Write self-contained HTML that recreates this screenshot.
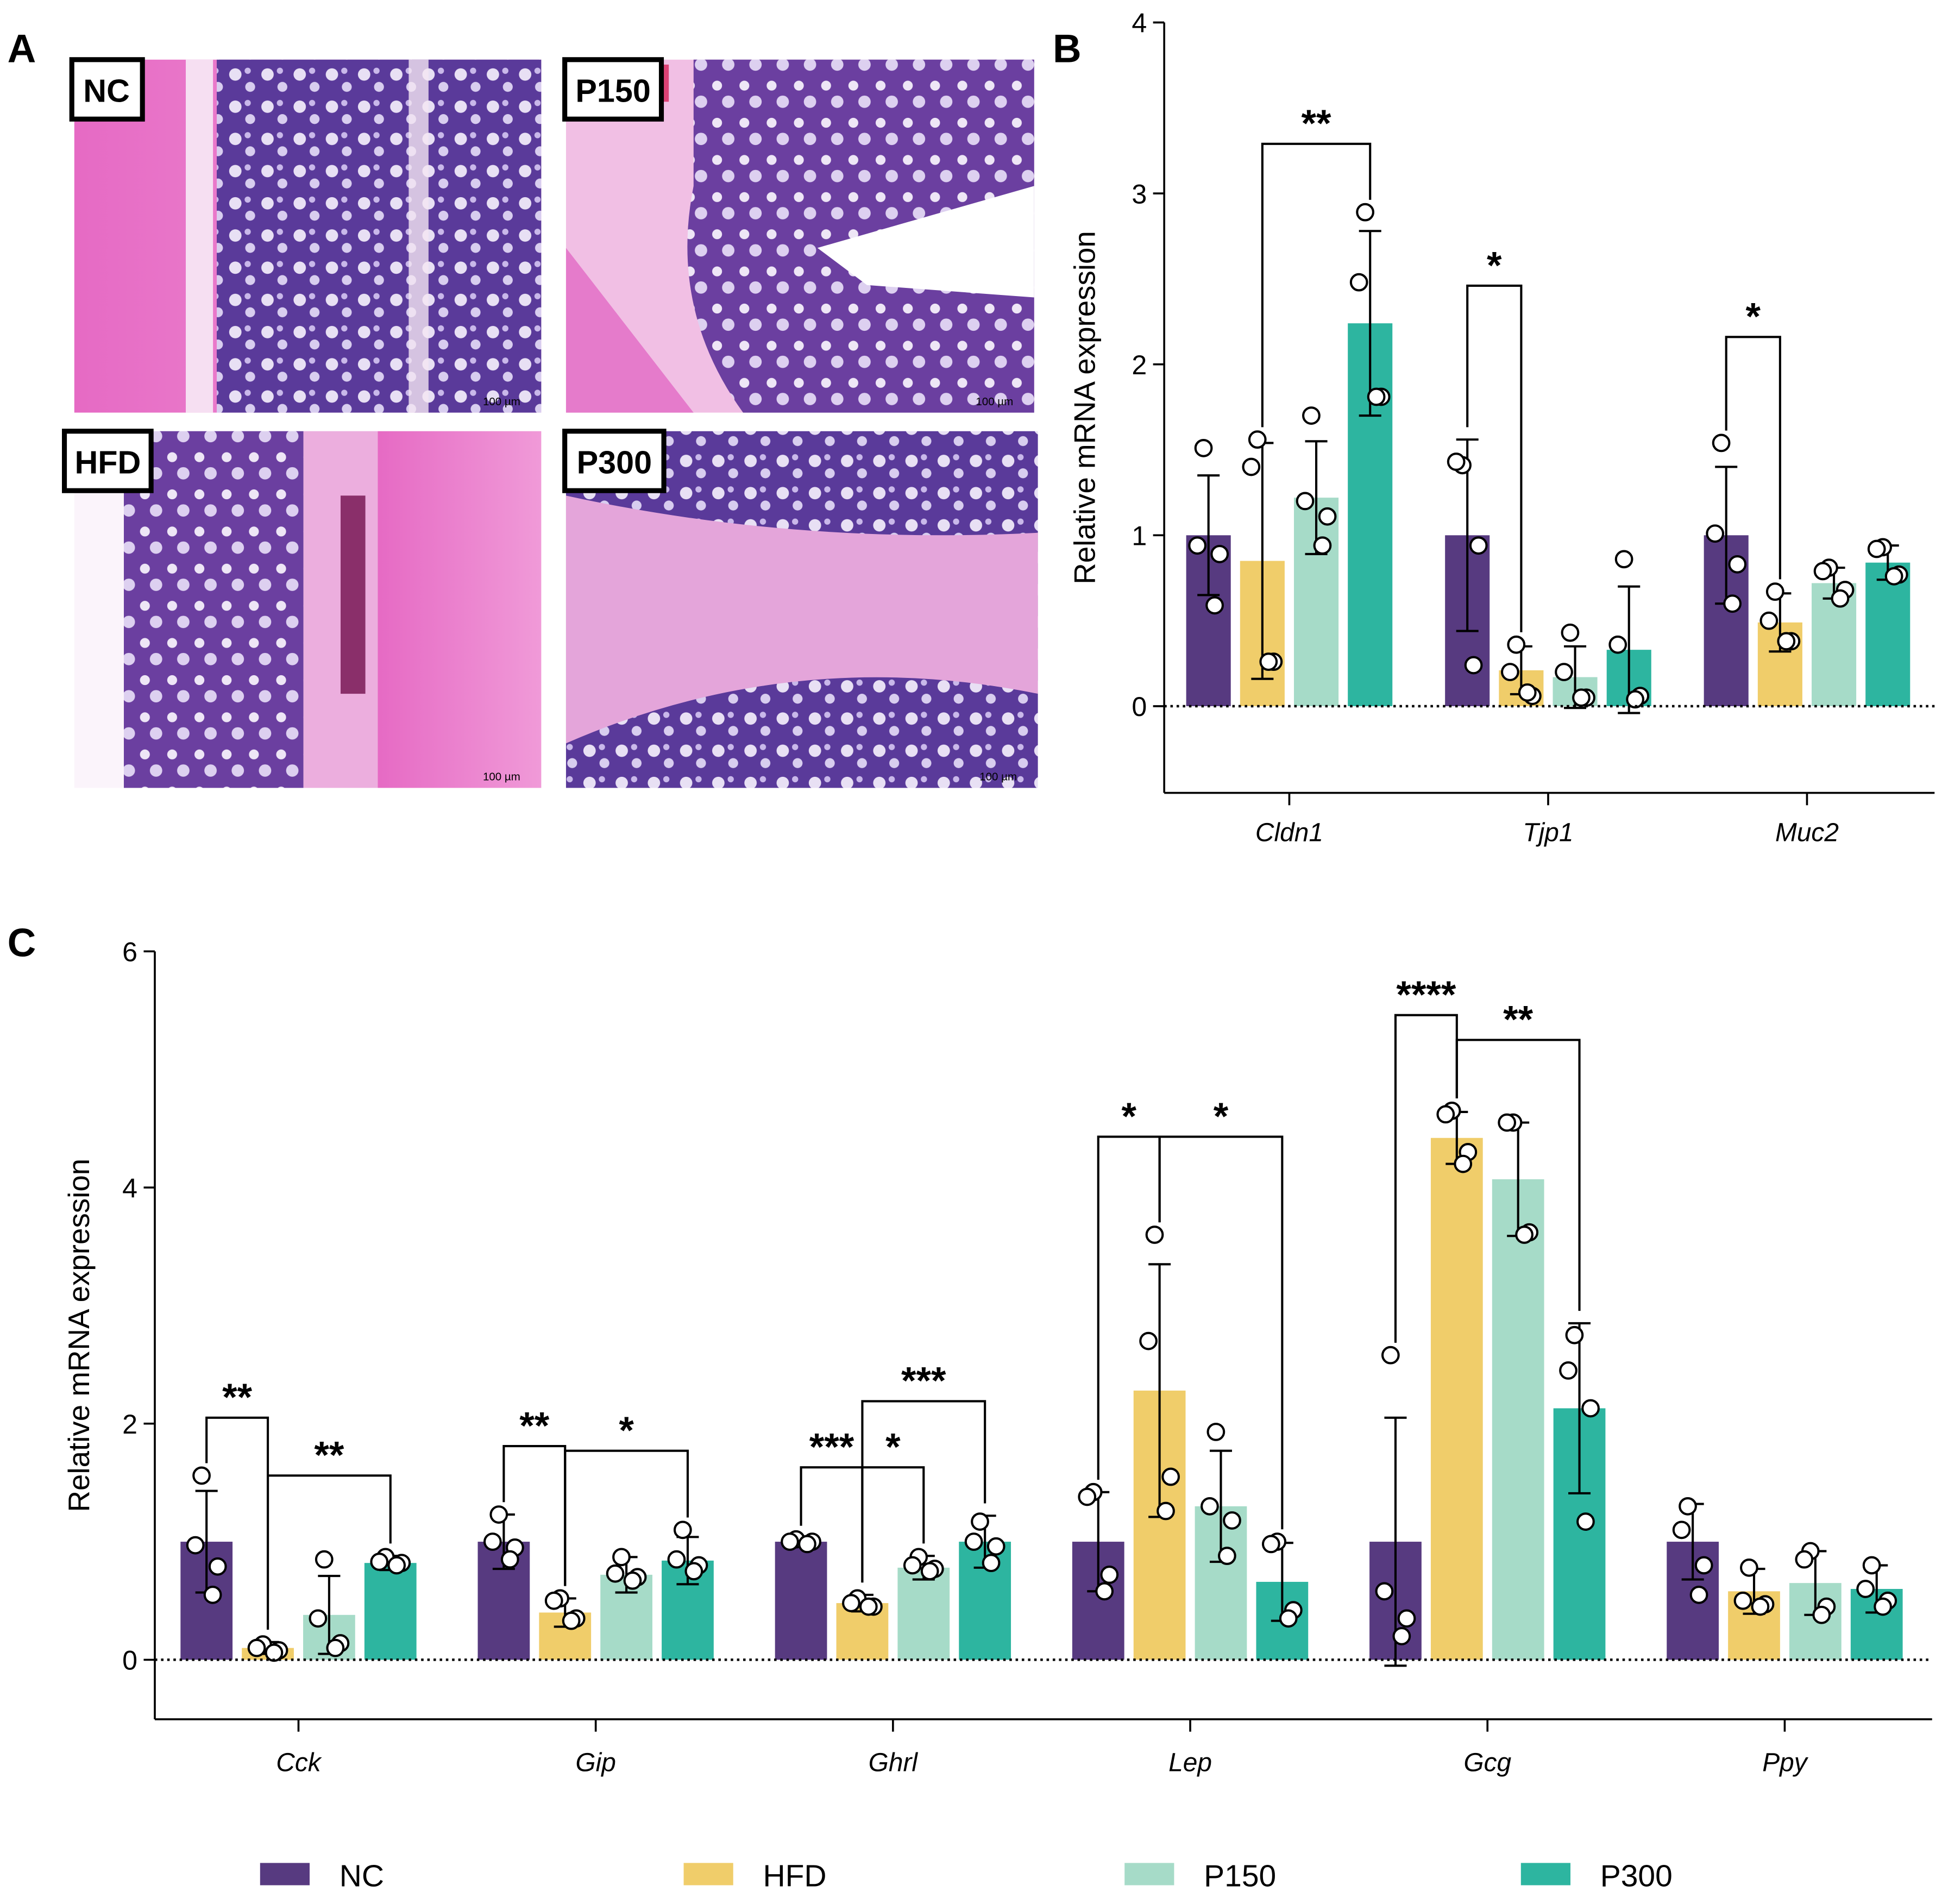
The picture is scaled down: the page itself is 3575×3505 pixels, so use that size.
<!DOCTYPE html>
<html><head><meta charset="utf-8"><style>html,body{margin:0;padding:0;background:#fff}svg{display:block}text{font-family:"Liberation Sans",sans-serif}</style></head>
<body>
<svg id="fig" width="3575" height="3505" viewBox="0 0 1568 1537" xmlns="http://www.w3.org/2000/svg">
<defs>
<pattern id="crypt" width="26" height="26" patternUnits="userSpaceOnUse"><rect width="26" height="26" fill="#5a3a9a"/><circle cx="8" cy="8" r="5" fill="#e8e0f4"/><circle cx="20" cy="18" r="4" fill="#d8cdef"/><circle cx="18" cy="5" r="2.5" fill="#c9b8ea"/></pattern>
<pattern id="crypt2" width="22" height="30" patternUnits="userSpaceOnUse"><rect width="22" height="30" fill="#6b3fa0"/><circle cx="7" cy="9" r="4" fill="#eee6f6"/><circle cx="16" cy="22" r="5" fill="#ddd0f0"/></pattern>
<linearGradient id="pinkg" x1="0" x2="1"><stop offset="0" stop-color="#e66ac4"/><stop offset="1" stop-color="#f09ad8"/></linearGradient>
</defs>
<g id="panelA">
<g><rect x="60" y="48" width="377" height="285" fill="url(#pinkg)"/><rect x="175" y="48" width="262" height="285" fill="url(#crypt)"/><rect x="150" y="48" width="22" height="285" fill="#f6dff2"/><rect x="330" y="48" width="16" height="285" fill="#f4e6f2" opacity="0.8"/></g>
<g><rect x="457" y="48" width="378" height="285" fill="#f1bfe4"/><path d="M560 48 L835 48 L835 333 L600 333 Q540 250 560 150 Z" fill="url(#crypt2)"/><path d="M660 200 L835 150 L835 240 L700 230 Z" fill="#fff"/><path d="M457 200 L560 333 L457 333 Z" fill="#e57bcb"/><rect x="480" y="52" width="60" height="30" fill="#d8245a" opacity="0.8"/></g>
<g><rect x="60" y="348" width="377" height="288" fill="#fbf4fb"/><rect x="100" y="348" width="145" height="288" fill="url(#crypt2)"/><rect x="245" y="348" width="60" height="288" fill="#ecaede"/><rect x="305" y="348" width="132" height="288" fill="url(#pinkg)"/><rect x="275" y="400" width="20" height="160" fill="#8a2f6a"/></g>
<g><rect x="457" y="348" width="381" height="288" fill="url(#crypt)"/><path d="M457 400 Q640 440 838 430 L838 560 Q640 520 457 600 Z" fill="#e4a5da"/></g>
<g font-size="9" font-family="Liberation Serif" fill="#000"><text x="405" y="327" text-anchor="middle">100 µm</text><text x="803" y="327" text-anchor="middle">100 µm</text><text x="405" y="630" text-anchor="middle">100 µm</text><text x="806" y="630" text-anchor="middle">100 µm</text></g>
<g font-weight="bold" font-size="26">
<rect x="58" y="48" width="57" height="48" fill="#fff" stroke="#000" stroke-width="4"/><text x="86" y="82" text-anchor="middle">NC</text>
<rect x="456" y="48" width="78" height="48" fill="#fff" stroke="#000" stroke-width="4"/><text x="495" y="82" text-anchor="middle">P150</text>
<rect x="52" y="348" width="70" height="48" fill="#fff" stroke="#000" stroke-width="4"/><text x="87" y="382" text-anchor="middle">HFD</text>
<rect x="456" y="348" width="80" height="48" fill="#fff" stroke="#000" stroke-width="4"/><text x="496" y="382" text-anchor="middle">P300</text>
</g>
</g>
<g font-weight="bold" font-size="32"><text x="6" y="50">A</text><text x="850" y="50">B</text><text x="6" y="772">C</text></g>
<g id="chartB"></g>
<g id="chartC"></g>
<g id="legend"></g>
</svg>
<script>
const groups = ['NC','HFD','P150','P300'];
const colors = ['#573a80','#f0cd6a','#a6dbc8','#2db5a0'];
// Panel B data
const catsB = ['Cldn1','Tjp1','Muc2'];
const meansB = [[1,0.85,1.22,2.24],[1,0.21,0.17,0.33],[1,0.49,0.72,0.84]];
const sdB = [[0.35,0.69,0.33,0.54],[0.56,0.14,0.18,0.37],[0.4,0.17,0.09,0.1]];
const ptsB = [
 [[1.51,0.94,0.89,0.59],[1.56,1.4,0.26,0.26],[1.7,1.2,1.11,0.94],[2.89,2.48,1.81,1.81]],
 [[1.41,1.43,0.94,0.24],[0.36,0.2,0.06,0.08],[0.43,0.2,0.05,0.05],[0.86,0.36,0.06,0.04]],
 [[1.54,1.01,0.83,0.6],[0.67,0.5,0.38,0.38],[0.81,0.79,0.68,0.63],[0.93,0.92,0.77,0.76]]];
const ticksB = [0,1,2,3,4];
// Panel C data
const catsC = ['Cck','Gip','Ghrl','Lep','Gcg','Ppy'];
const meansC = [[1,0.1,0.38,0.82],[1,0.4,0.72,0.84],[1,0.48,0.78,1.0],[1,2.28,1.3,0.66],[1,4.42,4.07,2.13],[1,0.58,0.65,0.6]];
const sdC = [[0.43,0.05,0.33,0.06],[0.23,0.12,0.15,0.2],[0.03,0.07,0.1,0.22],[0.42,1.07,0.47,0.33],[1.05,0.22,0.48,0.72],[0.32,0.19,0.27,0.2]];
const ptsC = [
 [[1.56,0.97,0.79,0.55],[0.13,0.1,0.08,0.06],[0.85,0.35,0.14,0.1],[0.87,0.83,0.82,0.8]],
 [[1.23,1.0,0.95,0.85],[0.52,0.5,0.35,0.33],[0.87,0.73,0.7,0.67],[1.1,0.85,0.8,0.75]],
 [[1.02,1.0,1.0,0.98],[0.52,0.48,0.45,0.45],[0.87,0.8,0.77,0.75],[1.17,1.0,0.96,0.82]],
 [[1.42,1.38,0.72,0.58],[3.6,2.7,1.55,1.26],[1.93,1.3,1.18,0.88],[1.0,0.98,0.42,0.35]],
 [[2.58,0.58,0.35,0.2],[4.65,4.62,4.3,4.2],[4.55,4.55,3.62,3.6],[2.75,2.45,2.13,1.17]],
 [[1.3,1.1,0.8,0.55],[0.78,0.5,0.47,0.45],[0.92,0.85,0.45,0.38],[0.8,0.6,0.5,0.45]]];
const ticksC = [0,2,4,6];
const sigB = [[0,1,3,3.29,'**'],[1,0,1,2.46,'*'],[2,0,1,2.16,'*']];
const sigC = [[0,0,1,2.05,'**'],[0,1,3,1.56,'**'],[1,0,1,1.81,'**'],[1,1,3,1.77,'*'],[2,0,1,1.63,'***'],[2,1,2,1.63,'*'],[2,1,3,2.19,'***'],[3,0,1,4.43,'*'],[3,1,3,4.43,'*'],[4,0,1,5.46,'****'],[4,1,3,5.25,'**']];

const NS='http://www.w3.org/2000/svg';
function mk(parent,tag,attrs,txt){const e=document.createElementNS(NS,tag);for(const k in attrs)e.setAttribute(k,attrs[k]);if(txt!==undefined)e.textContent=txt;parent.appendChild(e);return e;}

function chart(root,cfg){
 const {x0,x1,yTop,yBot,vMax,vMin,cats,means,sds,pts,ticks,sig,catX,step,bw,titleX,catLabelY}=cfg;
 const y=v=>yBot-(v-vMin)/(vMax-vMin)*(yBot-yTop);
 const bx=(c,g)=>catX(c)+(g-1.5)*step;
 const ax=mk(root,'g',{});
 
 
 mk(ax,'line',{x1:x0,x2:x0,y1:yTop,y2:yBot,stroke:'#000','stroke-width':1.6});
 ticks.forEach(t=>{mk(ax,'line',{x1:x0-9,x2:x0,y1:y(t),y2:y(t),stroke:'#000','stroke-width':1.6});
  const tl=mk(ax,'text',{x:x0-14,y:y(t)+8,'text-anchor':'end','font-size':22},t);
  
  });
 const tt=mk(root,'text',{x:titleX,y:(yTop+yBot)/2,'text-anchor':'middle','font-size':24,transform:`rotate(-90 ${titleX} ${(yTop+yBot)/2})`},'Relative mRNA expression');
 
 
 const xa=mk(root,'g',{});
 
 
 mk(xa,'line',{x1:x0,x2:x1,y1:yBot,y2:yBot,stroke:'#000','stroke-width':1.6});
 cats.forEach((c,i)=>{mk(xa,'line',{x1:catX(i),x2:catX(i),y1:yBot,y2:yBot+10,stroke:'#000','stroke-width':1.6});
  const cl=mk(xa,'text',{x:catX(i),y:catLabelY,'text-anchor':'middle','font-size':21,'font-style':'italic'},c);
  
  });
 cats.forEach((c,i)=>{groups.forEach((g,j)=>{
  const m=means[i][j],s=sds[i][j],cx=bx(i,j);
  const b=mk(root,'rect',{x:cx-bw/2,y:Math.min(y(m),y(0)),width:bw,height:Math.abs(y(0)-y(m)),fill:colors[j]});
  
  
  const e=mk(root,'g',{stroke:'#000','stroke-width':1.8});
  
  
  mk(e,'line',{x1:cx,x2:cx,y1:y(m-s),y2:y(m+s)});
  mk(e,'line',{x1:cx-9,x2:cx+9,y1:y(m+s),y2:y(m+s)});
  mk(e,'line',{x1:cx-9,x2:cx+9,y1:y(m-s),y2:y(m-s)});
  pts[i][j].forEach((p,k)=>{
   const off=[0,-9,9,0][k]+(k===0?-4:0)+(k===3?5:0);
   const d=mk(root,'circle',{cx:cx+off,cy:y(p),r:6.5,fill:'#fff',stroke:'#000','stroke-width':1.8});
   
   });
 });});
 mk(root,'line',{x1:x0,x2:x1,y1:y(0),y2:y(0),stroke:'#000','stroke-width':2,'stroke-dasharray':'2 3'});
 sig.forEach(([c,a,b2,top,lab])=>{
  const xa2=bx(c,a),xb=bx(c,b2),ty=y(top);
  const ga=mk(root,'g',{});
  
  
  const la=y(Math.max(...pts[c][a],means[c][a]+sds[c][a]))-10, lb=y(Math.max(...pts[c][b2],means[c][b2]+sds[c][b2]))-10;
  mk(ga,'path',{d:`M${xa2} ${la} V${ty} H${xb} V${lb}`,fill:'none',stroke:'#000','stroke-width':1.8});
  mk(ga,'text',{x:(xa2+xb)/2,y:ty-6,'text-anchor':'middle','font-size':31,'font-weight':'bold'},lab);
 });
}
chart(document.getElementById('chartB'),{x0:940,x1:1562,yTop:18,yBot:640,vMax:4,vMin:-0.507,cats:catsB,means:meansB,sds:sdB,pts:ptsB,ticks:ticksB,sig:sigB,catX:i=>1041+i*209,step:43.5,bw:36,titleX:884,catLabelY:679});
chart(document.getElementById('chartC'),{x0:125,x1:1560,yTop:768,yBot:1388,vMax:6,vMin:-0.504,cats:catsC,means:meansC,sds:sdC,pts:ptsC,ticks:ticksC,sig:sigC,catX:i=>241+i*240,step:49.5,bw:42,titleX:72,catLabelY:1430});
const lg=document.getElementById('legend');
const lx=[210,552,908,1228];
groups.forEach((g,j)=>{const r=mk(lg,'rect',{x:lx[j],y:1504,width:40,height:18,fill:colors[j]});
 
 
 const t=mk(lg,'text',{x:lx[j]+64,y:1523,'font-size':25},g);
 
 });
</script>
</body></html>
